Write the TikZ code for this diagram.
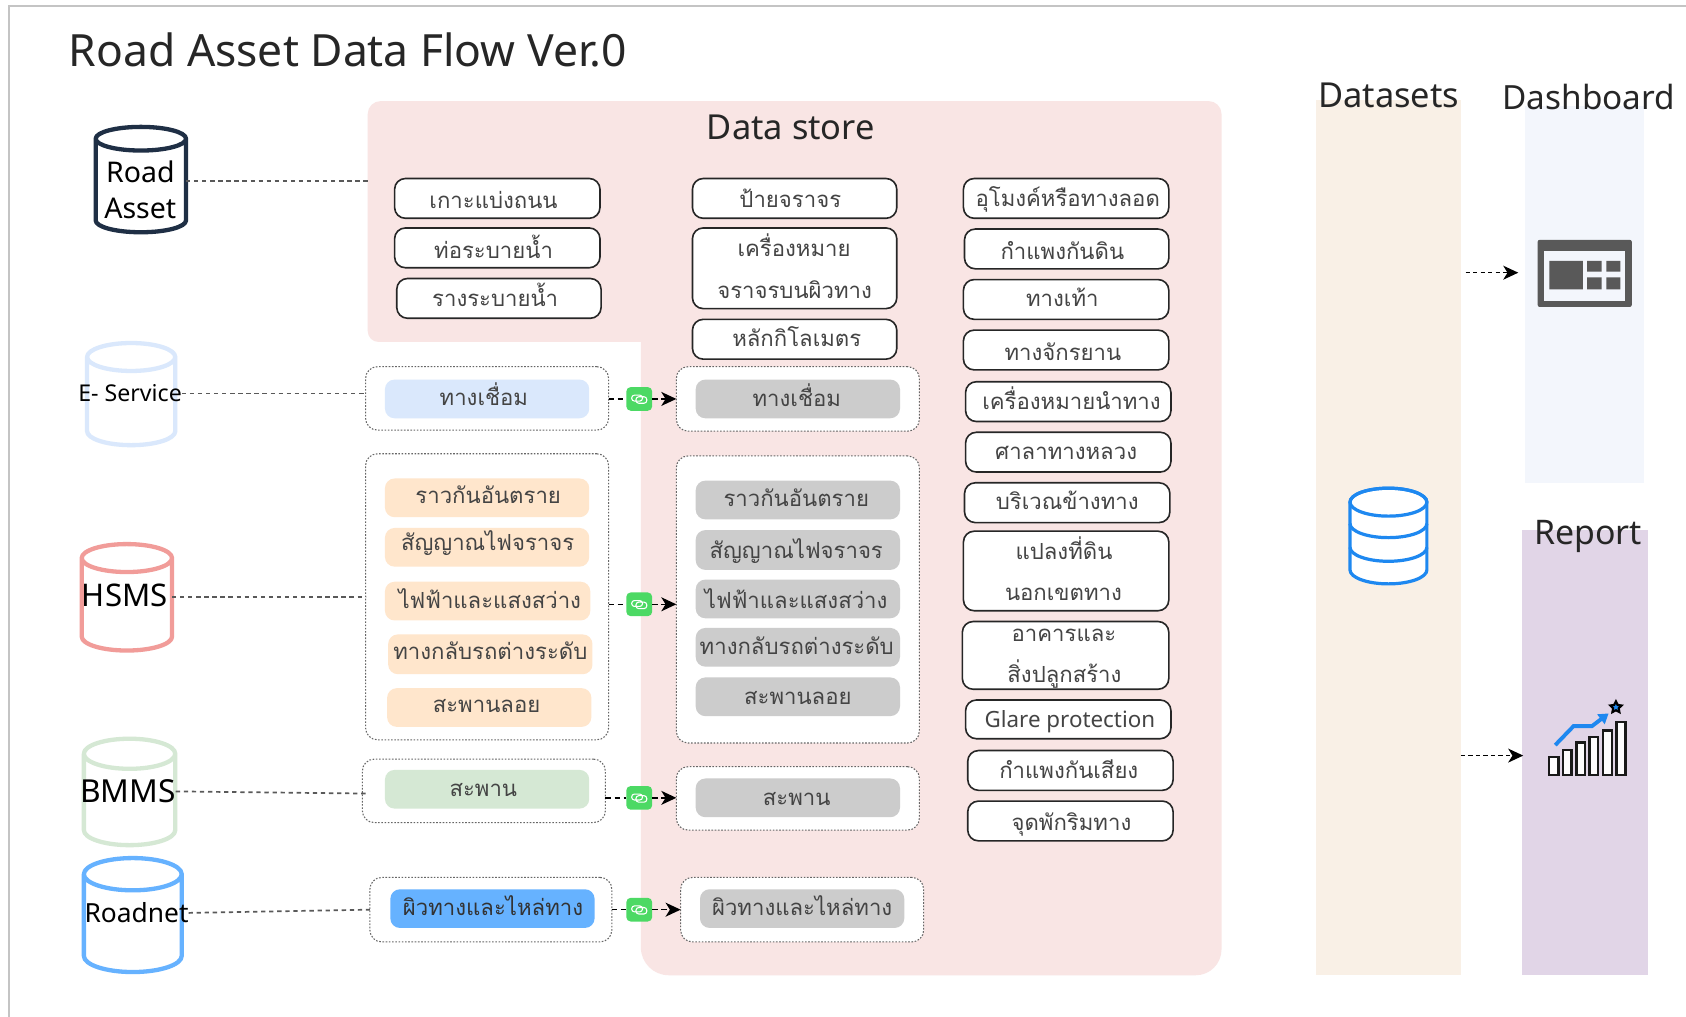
\documentclass[tikz,border=0pt]{standalone}
\usepackage{fontspec}
\setmainfont{Noto Sans}
\newfontfamily\thaifont[Script=Thai]{Loma}
\usetikzlibrary{arrows.meta,shapes.geometric}
\definecolor{pinkbg}{HTML}{F9E5E4}
\definecolor{dsbg}{HTML}{F9F0E6}
\definecolor{dashbg}{HTML}{F3F6FC}
\definecolor{repbg}{HTML}{E1D5E7}
\definecolor{lblue}{HTML}{DAE8FC}
\definecolor{lorange}{HTML}{FFE6CC}
\definecolor{lgreen}{HTML}{D5E8D4}
\definecolor{mblue}{HTML}{66B2FF}
\definecolor{lgrey}{HTML}{CCCCCC}
\definecolor{lred}{HTML}{F19C99}
\definecolor{navy}{HTML}{1F2F45}
\definecolor{chipg}{HTML}{4CD964}
\definecolor{iconblue}{HTML}{1E88F0}
\definecolor{icongrey}{HTML}{595959}
\definecolor{txt}{HTML}{444444}
\definecolor{framec}{HTML}{C4C4C4}
\newcommand\fsz[2]{\fontsize{#1}{#2}\selectfont}
\newcommand\stt{\rule[-4pt]{0pt}{15pt}}
% text nudged by dx right and dy down, without changing the node's size
\newcommand\tx[3]{\smash{\raisebox{\dimexpr-#2pt\relax}{\kern#1pt #3\kern-#1pt}}}
\newcommand\bx[7]{%
  \pgfmathsetmacro\bxw{#5-#3}\pgfmathsetmacro\bxh{#6-#4}%
  \pgfmathsetmacro\bxx{(#3+#5)/2}\pgfmathsetmacro\bxy{(#4+#6)/2}%
  \node[#2,minimum width=\bxw pt,minimum height=\bxh pt] (#1) at (\bxx,\bxy) {\stt#7\stt};}
\newcommand\cyl[7]{%
  \pgfmathsetmacro\cx{(#3+#5)/2}\pgfmathsetmacro\rx{(#5-#3)/2}%
  \pgfmathsetmacro\ya{#4+#7}\pgfmathsetmacro\yb{#6-#7}%
  \bx{#1}{base}{#3}{#4}{#5}{#6}{}
  \draw[#2,line width=4pt,line join=round]
    (\cx,\ya) ellipse [x radius=\rx pt,y radius=#7 pt]
    (#3,\ya) -- (#3,\yb) arc[start angle=180,end angle=360,x radius=\rx pt,y radius=#7 pt] -- (#5,\ya);}
\newcommand\chip[3]{%
  \node[chipnode] (#1) at (#2,#3) {};
  \draw[white,line width=1pt,rounded corners=2.5pt]
    ([xshift=-7pt,yshift=3.5pt]#1.center) rectangle ([xshift=3pt,yshift=-2pt]#1.center)
    ([xshift=-3pt,yshift=2pt]#1.center) rectangle ([xshift=7pt,yshift=-4pt]#1.center);}
\tikzset{
  base/.style={inner sep=0pt,outer sep=0pt},
  thaitext/.style={font=\thaifont\fsz{20.6}{38},align=center,text=txt},
  wbox/.style={base,thaitext,draw=black!85,line width=1.5pt,fill=white,rounded corners=10pt},
  pill/.style={base,thaitext,rounded corners=9pt,fill=#1},
  dotbox/.style={base,draw=black!60,line width=1pt,dash pattern=on 1.5pt off 1.5pt,rounded corners=11pt},
  conn/.style={draw=black!65,line width=1.6pt,dash pattern=on 4pt off 3.5pt},
  flow/.style={draw=black,line width=1.3pt,dash pattern=on 5pt off 3.5pt},
  flowtip/.style={flow,-{Stealth[length=14pt,width=13pt,inset=4pt]}},
  chipnode/.style={base,fill=chipg,rounded corners=4pt,minimum width=24pt,minimum height=22pt},
  head/.style={base,text=black!85},
  cyllabel/.style={base,text=black,align=center},
  panel/.style={base,fill=#1},
}
\begin{document}
\begin{tikzpicture}[x=1pt,y=-1pt]
\useasboundingbox (0,0) rectangle (1568,945.8);
\fill[white] (0,0) rectangle (1568,945.8);
\draw[framec,line width=1.2pt] (1568,5.5) -- (8.5,5.5) -- (8.5,945.8);
\node[base,anchor=west,text=black!85,font=\fsz{41.3}{46}] (title) at (64,46) {Road Asset Data Flow Ver.0};
% data store background
\fill[pinkbg] (354,94) -- (1124,94) arc[start angle=90,end angle=0,radius=12pt] -- (1136,883)
  arc[start angle=0,end angle=-90,radius=24pt] -- (622,907)
  arc[start angle=270,end angle=180,radius=26pt] -- (596,318) -- (352,318)
  arc[start angle=270,end angle=180,radius=10pt] -- (342,106) arc[start angle=180,end angle=90,radius=12pt] -- cycle;
\node[head,font=\fsz{32}{36}] (dstitle) at (735.5,118.5) {Data store};
\coordinate (dswest) at (342,168);
% panels
\bx{pdata}{panel=dsbg}{1224}{93}{1358.6}{907}{}
\bx{pdash}{panel=dashbg}{1418}{99}{1529}{449}{}
\bx{prep}{panel=repbg}{1415}{493}{1533}{907}{}
\node[head,font=\fsz{32}{36}] (hdata) at (1291.5,88.5) {Datasets};
\node[head,font=\fsz{31}{36}] (hdash) at (1477.5,90) {Dashboard};
\node[head,font=\fsz{31.5}{36}] (hrep) at (1477,498.5) {Report};
% white boxes
\bx{a1}{wbox}{367}{166}{558}{203}{\tx{-3.5}{6}{เกาะแบ่งถนน}}
\bx{a2}{wbox}{367}{212}{558}{249}{\tx{-3.5}{6}{ท่อระบายน้ำ}}
\bx{a3}{wbox}{369}{259}{559}{296}{\tx{-3.5}{4}{รางระบายน้ำ}}
\bx{b1}{wbox}{644}{166}{834}{203}{\tx{-4}{5}{ป้ายจราจร}}
\bx{b2}{wbox}{644}{212}{834}{287}{\tx{-0.5}{5}{เครื่องหมาย}\\\tx{0}{6}{จราจรบนผิวทาง}}
\bx{b3}{wbox}{644}{297}{834}{334}{\tx{2}{3}{หลักกิโลเมตร}}
\bx{c1}{wbox}{896}{166}{1087}{203}{\tx{1.5}{4}{อุโมงค์หรือทางลอด}}
\bx{c2}{wbox}{897}{213}{1087}{250}{\tx{-4}{6}{กำแพงกันดิน}}
\bx{c3}{wbox}{896}{260}{1087}{297}{\tx{-3.5}{3}{ทางเท้า}}
\bx{c4}{wbox}{896}{307}{1087}{344}{\tx{-3}{6}{ทางจักรยาน}}
\bx{c5}{wbox}{898}{355}{1089}{392}{\tx{3}{4}{เครื่องหมายนำทาง}}
\bx{c6}{wbox}{898}{402}{1089}{439}{\tx{-2}{3}{ศาลาทางหลวง}}
\bx{c7}{wbox}{897}{449}{1088}{486}{\tx{0}{3}{บริเวณข้างทาง}}
\bx{c8}{wbox}{896}{494}{1087}{568}{\tx{-2}{5}{แปลงที่ดิน}\\\tx{-2.5}{5}{นอกเขตทาง}}
\bx{c9}{wbox}{895}{578}{1087}{641}{\tx{-1.5}{3}{อาคารและ}\\\tx{-1}{3}{สิ่งปลูกสร้าง}}
\bx{c10}{wbox,font=\fsz{20.8}{24}}{898}{651}{1089}{687}{\tx{1.5}{4}{Glare protection}}
\bx{c11}{wbox}{900}{698}{1091}{735}{\tx{-1.5}{4}{กำแพงกันเสียง}}
\bx{c12}{wbox}{900}{745}{1091}{782}{\tx{1}{5}{จุดพักริมทาง}}
% dotted containers
\bx{l1}{dotbox}{340}{341}{566}{400}{}
\bx{l2}{dotbox}{340}{422}{566}{688}{}
\bx{l3}{dotbox}{337}{706}{563}{765}{}
\bx{l4}{dotbox}{344}{816}{569}{876}{}
\bx{r1}{dotbox,fill=white}{629}{341}{855}{401}{}
\bx{r2}{dotbox,fill=white}{629}{424}{855}{691}{}
\bx{r3}{dotbox,fill=white}{629}{713}{855}{772}{}
\bx{r4}{dotbox,fill=white}{633}{816}{859}{876}{}
% pills
\bx{p1}{pill=lblue}{358}{353}{548}{389}{\tx{-3}{3}{ทางเชื่อม}}
\bx{p2}{pill=lorange}{358}{445}{548}{481}{\tx{1}{2}{ราวกันอันตราย}}
\bx{p3}{pill=lorange}{358}{491}{548}{527}{\tx{0.5}{-1}{สัญญาณไฟจราจร}}
\bx{p4}{pill=lorange}{358}{541}{549}{577}{\tx{2}{3}{ไฟฟ้าและแสงสว่าง}}
\bx{p5}{pill=lorange}{361}{590}{551}{627}{\tx{0}{1}{ทางกลับรถต่างระดับ}}
\bx{p6}{pill=lorange}{360}{640}{550}{676}{\tx{-2.5}{1}{สะพานลอย}}
\bx{p7}{pill=lgreen}{358}{716}{548}{752}{\tx{-3.5}{3}{สะพาน}}
\bx{p8}{pill=mblue,text=black!80}{363}{827}{553}{863}{\tx{0.5}{3}{ผิวทางและไหล่ทาง}}
\bx{q1}{pill=lgrey}{647}{353}{837}{389}{\tx{-1}{4}{ทางเชื่อม}}
\bx{q2}{pill=lgrey}{647}{447}{837}{483}{\tx{-1.5}{3}{ราวกันอันตราย}}
\bx{q3}{pill=lgrey}{647}{493}{837}{530}{\tx{-1.5}{4}{สัญญาณไฟจราจร}}
\bx{q4}{pill=lgrey}{647}{539}{837}{575}{\tx{-1.5}{5}{ไฟฟ้าและแสงสว่าง}}
\bx{q5}{pill=lgrey}{647}{584}{837}{620}{\tx{-1}{3}{ทางกลับรถต่างระดับ}}
\bx{q6}{pill=lgrey}{647}{630}{837}{666}{\tx{0}{4}{สะพานลอย}}
\bx{q7}{pill=lgrey}{647}{724}{837}{760}{\tx{-1}{4}{สะพาน}}
\bx{q8}{pill=lgrey}{651}{827}{841}{863}{\tx{0}{3}{ผิวทางและไหล่ทาง}}
% cylinders
\cyl{cra}{navy}{89}{118}{173}{216}{11}
\cyl{ces}{lblue}{81}{319}{163}{414}{13}
\cyl{chs}{lred}{76}{506}{160}{605}{13}
\cyl{cbm}{lgreen}{78}{687}{163}{786}{14}
\cyl{crn}{mblue}{78}{798}{169}{904}{15}
\node[cyllabel,font=\fsz{26.5}{34}] (tra) at (130.5,176.5) {Road\\Asset};
\node[cyllabel,font=\fsz{21.5}{24}] (tes) at (121,366) {E- Service};
\node[cyllabel,font=\fsz{29}{32}] (ths) at (116,554) {HSMS};
\node[cyllabel,font=\fsz{29.5}{32}] (tbm) at (119,736) {BMMS};
\node[cyllabel,font=\fsz{24.5}{28}] (trn) at (127,849) {Roadnet};
% source connectors
\draw[conn] (cra.east |- dswest) -- (dswest);
\draw[conn] (tes.east) -- (l1.west |- tes.east);
\draw[conn] (chs.east) -- (l2.west |- chs.east);
\draw[conn] (tbm.east) -- ([xshift=3pt,yshift=-2.5pt]l3.west);
\draw[conn] (trn.east) -- (l4.west);
% chips and flows
\chip{k1}{594.5}{371}
\chip{k2}{594.5}{562}
\chip{k3}{594.5}{742}
\chip{k4}{594.5}{846}
\draw[flow] (l1.east |- k1.west) -- (k1.west);
\draw[flowtip] (k1.east) -- (r1.west |- k1.east);
\draw[flow] (l2.east |- k2.west) -- (k2.west);
\draw[flowtip] (k2.east) -- (r2.west |- k2.east);
\draw[flow] (l3.east |- k3.west) -- (k3.west);
\draw[flowtip] (k3.east) -- (r3.west |- k3.east);
\draw[flow] (l4.east |- k4.west) -- (k4.west);
\draw[flowtip] (k4.east) -- (r4.west |- k4.east);
% database icon
\bx{dbicon}{base}{1255.5}{454}{1327}{543}{}
\draw[iconblue,fill=white,line width=3pt]
  (1255.5,467) -- (1255.5,530) arc[start angle=180,end angle=360,x radius=35.75pt,y radius=13pt] -- (1327,467)
  arc[start angle=0,end angle=180,x radius=35.75pt,y radius=13pt] -- cycle;
\draw[iconblue,line width=3pt]
  (1291.25,467) ellipse [x radius=35.75pt,y radius=13pt]
  (1255.5,487) arc[start angle=180,end angle=360,x radius=35.75pt,y radius=13pt]
  (1255.5,509) arc[start angle=180,end angle=360,x radius=35.75pt,y radius=13pt];
% dashboard icon
\bx{dashicon}{base,fill=icongrey,rounded corners=2pt}{1430}{223}{1517.6}{285.5}{}
\fill[dashbg] (1436,233) rectangle (1511.6,279.5);
\fill[icongrey] (1441,242.7) rectangle (1472,269)
  (1476,242.7) rectangle (1489.5,252.7) (1494,242.7) rectangle (1507,252.7)
  (1476,258) rectangle (1489.5,269) (1494,258) rectangle (1507,269);
% report icon
\draw[black!90,line width=2.2pt,fill=white!92!repbg]
  (1440.4,704.3) rectangle (1449.3,720.7) (1453.3,697.5) rectangle (1461.6,720.7)
  (1466.3,690.4) rectangle (1474.3,720.7) (1478.3,685.7) rectangle (1486.3,720.7)
  (1491,679.5) rectangle (1499,720.7) (1503.3,671.7) rectangle (1511.7,720.7);
\draw[iconblue,line width=3.6pt,-{Triangle[length=9pt,width=11pt]}]
  (1446.4,692.9) -- (1463.4,675.3) -- (1480.5,675.3) -- (1496,663.5);
\node[base,draw=black,fill=iconblue,line width=2pt,star,star points=5,star point ratio=2,minimum size=11pt] (rstar) at (1502.8,657.8) {};
% output arrows
\coordinate (d1s) at (1363,253.6);
\coordinate (d1e) at (1412,253.6);
\coordinate (d2s) at (pdata.east |- 0,702.7);
\coordinate (d2e) at (1416.6,702.7);
\draw[flowtip,line width=1.1pt,dash pattern=on 4pt off 3pt] (d1s) -- (d1e);
\draw[flowtip,line width=1.1pt,dash pattern=on 4pt off 3pt] (d2s) -- (d2e);
\end{tikzpicture}
\end{document}
